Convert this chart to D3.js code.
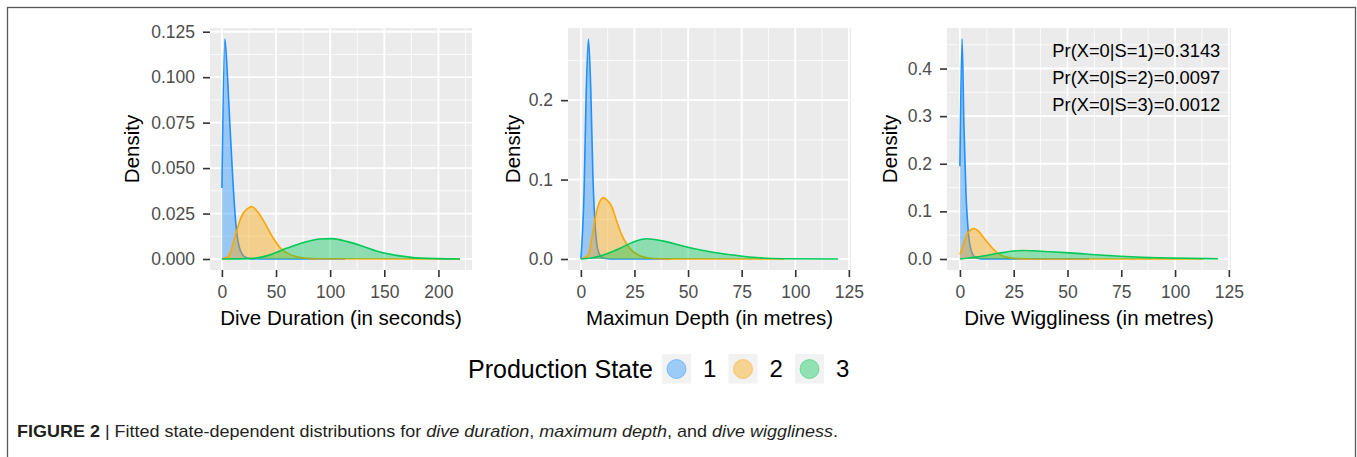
<!DOCTYPE html>
<html>
<head>
<meta charset="utf-8">
<script src="https://cdn.jsdelivr.net/npm/d3@7"></script>
<style>
  body { margin: 0; background: #fff; }
  svg { display: block; font-family: "Liberation Sans", Arial, sans-serif; }
</style>
</head>
<body>
<svg id="chart" width="1357" height="457"></svg>
<script>
// state labels and line colours
var states = ["1", "2", "3"];
var colors = ["#1E90FF", "#FFA500", "#00C957"];

// dive duration, [seconds, density] per state
var dur1 = [[0,0.039],[2.75,0.121],[5.2,0.100],[7.6,0.071],[10.1,0.0436],[12.8,0.0198],[15.9,0.0069],[20.5,0.0014],[26,0.0002],[40,0],[114,0]];
var dur2 = [[0,0],[5.2,0.0011],[8.3,0.0042],[11.3,0.0106],[14.4,0.017],[17.4,0.0225],[20.5,0.0258],[23.6,0.0276],[27.5,0.0289],[32.7,0.0262],[38.8,0.0207],[46.5,0.0124],[54.1,0.006],[63.3,0.0024],[75.5,0.0005],[90,0.0001],[220,0]];
var dur3 = [[0,0],[26.6,0.0002],[45,0.0024],[60.3,0.006],[75.5,0.0091],[90.8,0.011],[101.5,0.0112],[115.3,0.0097],[130.6,0.0069],[145.9,0.0038],[161.2,0.002],[182.6,0.0005],[220,0]];

// maximum depth, [metres, density]
var dep1 = [[0,0],[1.5,0.085],[2.5,0.211],[3.55,0.277],[4.65,0.211],[5.6,0.106],[6.65,0.043],[8.2,0.0092],[10.5,0.001],[14,0],[42,0]];
var dep2 = [[0,0],[3.5,0.005],[5.1,0.026],[6.65,0.051],[8.2,0.068],[10.5,0.0773],[12.1,0.0744],[14.4,0.066],[16.8,0.047],[19.1,0.030],[22.2,0.0155],[26.1,0.006],[32.3,0.001],[40,0.0001],[95,0]];
var dep3 = [[0,0],[5,0.0012],[10.5,0.005],[18.3,0.0135],[24.5,0.0215],[30.7,0.0255],[38.5,0.0225],[49.4,0.0152],[60.2,0.0092],[71,0.005],[82,0.0017],[94.3,0.0004],[120,0]];

// dive wiggliness, [metres, density]
var wig1 = [[0,0.195],[1,0.462],[1.86,0.281],[2.8,0.141],[3.9,0.057],[5,0.022],[7,0.004],[10,0.0003],[60,0]];
var wig2 = [[0,0.0095],[1.5,0.029],[3.1,0.05],[4.65,0.06],[6.5,0.064],[8.5,0.059],[10.8,0.046],[13.9,0.029],[17,0.0147],[20.1,0.0057],[26.3,0.0008],[35,0.0001],[113,0]];
var wig3 = [[0,0],[10.8,0.0063],[18.6,0.0126],[26.3,0.0172],[30,0.0178],[34,0.0172],[41.8,0.0152],[51,0.0128],[66.6,0.0078],[82,0.0042],[97.6,0.0021],[120,0.0004]];

// axes
var durXTicks = [0, 50, 100, 150, 200];
var depXTicks = [0, 25, 50, 75, 100, 125];
var durYTicks = [0, 0.025, 0.05, 0.075, 0.1, 0.125];
var depYTicks = [0, 0.1, 0.2];
var wigYTicks = [0, 0.1, 0.2, 0.3, 0.4];
var xTitles = ["Dive Duration (in seconds)", "Maximun Depth (in metres)", "Dive Wiggliness (in metres)"];
var zeroProbs = ["Pr(X=0|S=1)=0.3143", "Pr(X=0|S=2)=0.0097", "Pr(X=0|S=3)=0.0012"];

var panels = [
  { series: [dur1, dur2, dur3], xmax: 220, xTicks: durXTicks, yTicks: durYTicks, fmt: ".3f", left: 210, right: 472, titleX: 132 },
  { series: [dep1, dep2, dep3], xmax: 120, xTicks: depXTicks, yTicks: depYTicks, fmt: ".1f", left: 568, right: 851, titleX: 513 },
  { series: [wig1, wig2, wig3], xmax: 120, xTicks: depXTicks, yTicks: wigYTicks, fmt: ".1f", left: 947, right: 1231, titleX: 890 }
];
var panelTop = 28, panelBottom = 270;

var svg = d3.select("#chart");

svg.append("rect")
  .attr("width", 1357).attr("height", 457)
  .style("fill", "#fff");

// frame round the figure
svg.append("rect")
  .attr("x", 7.5).attr("y", 7.5)
  .attr("width", 1348).attr("height", 480)
  .style("fill", "none")
  .style("stroke", "#595959")
  .style("stroke-width", 1.3);

panels.forEach(function(p, pi) {
  var ymax = d3.max(p.series, function(s) { return d3.max(s, function(d) { return d[1]; }); });
  var x = d3.scaleLinear().domain([-0.05 * p.xmax, 1.05 * p.xmax]).range([p.left, p.right]);
  var y = d3.scaleLinear().domain([-0.05 * ymax, 1.05 * ymax]).range([panelBottom, panelTop]);
  var g = svg.append("g");

  g.append("rect")
    .attr("x", p.left).attr("y", panelTop)
    .attr("width", p.right - p.left).attr("height", panelBottom - panelTop)
    .style("fill", "#EBEBEB");

  // minor grid halfway between majors
  var xstep = p.xTicks[1] - p.xTicks[0];
  var ystep = p.yTicks[1] - p.yTicks[0];
  var xMinor = d3.range(p.xTicks[0] + xstep / 2, x.domain()[1], xstep);
  var yMinor = d3.range(p.yTicks[0] + ystep / 2, y.domain()[1], ystep);

  g.selectAll(".vminor").data(xMinor).enter().append("line")
    .attr("x1", x).attr("x2", x).attr("y1", panelTop).attr("y2", panelBottom)
    .style("stroke", "#fff").style("stroke-width", 0.8);
  g.selectAll(".hminor").data(yMinor).enter().append("line")
    .attr("y1", y).attr("y2", y).attr("x1", p.left).attr("x2", p.right)
    .style("stroke", "#fff").style("stroke-width", 0.8);
  g.selectAll(".vmajor").data(p.xTicks.filter(function(t) { return x(t) <= p.right; })).enter().append("line")
    .attr("x1", x).attr("x2", x).attr("y1", panelTop).attr("y2", panelBottom)
    .style("stroke", "#fff").style("stroke-width", 1.8);
  g.selectAll(".hmajor").data(p.yTicks).enter().append("line")
    .attr("y1", y).attr("y2", y).attr("x1", p.left).attr("x2", p.right)
    .style("stroke", "#fff").style("stroke-width", 1.8);

  var area = d3.area()
    .x(function(d) { return x(d[0]); })
    .y0(y(0))
    .y1(function(d) { return y(d[1]); })
    .curve(d3.curveMonotoneX);
  var line = d3.line()
    .x(function(d) { return x(d[0]); })
    .y(function(d) { return y(d[1]); })
    .curve(d3.curveMonotoneX);

  p.series.forEach(function(s, si) {
    g.append("path").datum(s).attr("d", area)
      .style("fill", colors[si]).style("fill-opacity", 0.4);
    g.append("path").datum(s).attr("d", line)
      .style("fill", "none")
      .style("stroke", colors[si])
      .style("stroke-width", 1.6);
  });

  var xAxis = g.append("g")
    .attr("transform", "translate(0," + panelBottom + ")")
    .call(d3.axisBottom(x).tickValues(p.xTicks).tickSize(7).tickPadding(9));
  var yAxis = g.append("g")
    .attr("transform", "translate(" + p.left + ",0)")
    .call(d3.axisLeft(y).tickValues(p.yTicks).tickFormat(d3.format(p.fmt)).tickSize(7).tickPadding(8));

  [xAxis, yAxis].forEach(function(a) {
    a.select(".domain").remove();
    a.selectAll(".tick line").style("stroke", "#333").style("stroke-width", 1.6);
    a.selectAll(".tick text")
      .style("fill", "#4D4D4D")
      .style("font-size", "17.5px")
      .style("font-family", "'Liberation Sans', Arial, sans-serif");
  });

  g.append("text")
    .attr("x", (p.left + p.right) / 2)
    .attr("y", 325)
    .attr("text-anchor", "middle")
    .style("font-size", "20.5px")
    .text(xTitles[pi]);

  g.append("text")
    .attr("transform", "translate(" + p.titleX + "," + 149 + ") rotate(-90)")
    .attr("text-anchor", "middle")
    .attr("dy", "0.35em")
    .style("font-size", "20.5px")
    .text("Density");

  if (pi == 2) {
    g.selectAll(".note").data(zeroProbs).enter().append("text")
      .attr("x", x(121))
      .attr("y", function(d, i) { return y(0.438) + i * 27.2; })
      .attr("dy", "0.35em")
      .attr("text-anchor", "end")
      .style("font-size", "18.3px")
      .text(function(d) { return d; });
  }
});

// legend
var legend = svg.append("g").attr("transform", "translate(468,369)");
legend.append("text")
  .attr("dy", "0.35em")
  .style("font-size", "25px")
  .text("Production State");

var keys = legend.selectAll(".key").data(states).enter().append("g")
  .attr("transform", function(d, i) { return "translate(" + (194 + i * 66.5) + ",0)"; });
keys.append("rect")
  .attr("x", 0).attr("y", -15)
  .attr("width", 29).attr("height", 29.5)
  .style("fill", "#F2F2F2");
keys.append("circle")
  .attr("cx", 14.5).attr("cy", 0).attr("r", 9.5)
  .style("fill", function(d, i) { return colors[i]; })
  .style("fill-opacity", 0.4)
  .style("stroke", function(d, i) { return colors[i]; })
  .style("stroke-opacity", 0.45)
  .style("stroke-width", 1);
keys.append("text")
  .attr("x", 41)
  .attr("dy", "0.35em")
  .style("font-size", "24px")
  .text(function(d) { return d; });

// caption
var cap = svg.append("text")
  .attr("x", 17).attr("y", 437)
  .attr("textLength", 821)
  .attr("lengthAdjust", "spacingAndGlyphs")
  .style("font-size", "17px")
  .style("fill", "#231F20");
cap.append("tspan").style("font-weight", "bold").text("FIGURE 2");
cap.append("tspan").text(" | Fitted state-dependent distributions for ");
cap.append("tspan").style("font-style", "italic").text("dive duration");
cap.append("tspan").text(", ");
cap.append("tspan").style("font-style", "italic").text("maximum depth");
cap.append("tspan").text(", and ");
cap.append("tspan").style("font-style", "italic").text("dive wiggliness");
cap.append("tspan").text(".");
</script>
</body>
</html>
